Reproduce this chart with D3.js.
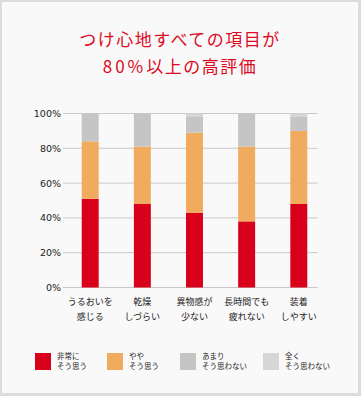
<!DOCTYPE html>
<html>
<head>
<meta charset="utf-8">
<script src="https://cdn.jsdelivr.net/npm/d3@7"></script>
<style>
  body { margin: 0; background: #ddd; }
  svg { display: block; font-family: 'Noto Sans CJK JP', 'Noto Sans', sans-serif; }
</style>
</head>
<body>
<svg id="chart"></svg>
<script>
const categories = [
  ['うるおいを', '感じる'],
  ['乾燥', 'しづらい'],
  ['異物感が', '少ない'],
  ['長時間でも', '疲れない'],
  ['装着', 'しやすい']
]
const seriesNames = [
  ['非常に', 'そう思う'],
  ['やや', 'そう思う'],
  ['あまり', 'そう思わない'],
  ['全く', 'そう思わない']
]
const veryMuch = [51, 48, 43, 38, 48]
const somewhat = [33, 33, 46, 43, 42]
const notMuch = [16, 19, 9, 19, 8]
const notAtAll = [0, 0, 2, 0, 2]
const yTicks = [0, 20, 40, 60, 80, 100]
const colors = ['#d9001b', '#f0ab5e', '#c4c5c4', '#d6d6d6']

const W = 361, H = 396
const svg = d3.select('#chart').attr('width', W).attr('height', H)

svg.append('rect').attr('width', W).attr('height', H).attr('fill', '#dcdcdc')
svg.append('rect').attr('x', 2).attr('y', 2).attr('width', W - 5).attr('height', H - 5).attr('fill', '#f9f9f9')

// title
const title = svg.append('g').attr('fill', '#dc0a23').attr('font-size', '17px')
  .attr('text-anchor', 'middle')
title.append('text').attr('x', 180).attr('y', 46).attr('letter-spacing', '1.5px')
  .text('つけ心地すべての項目が')
const t2 = title.append('text').attr('x', 180).attr('y', 73).attr('letter-spacing', '1.5px')
t2.append('tspan').attr('letter-spacing', '3px').text('80%')
t2.append('tspan').text('以上の高評価')

const rows = categories.map((c, i) => ({
  key: i, v0: veryMuch[i], v1: somewhat[i], v2: notMuch[i], v3: notAtAll[i]
}))
const stack = d3.stack().keys(['v0', 'v1', 'v2', 'v3'])(rows)

const x = d3.scaleBand().domain(d3.range(categories.length)).range([64, 325]).paddingInner(0.675).paddingOuter(0.34)
const y = d3.scaleLinear().domain([0, 100]).range([287.5, 113.5])

// gridlines
svg.append('g').selectAll('line').data(yTicks).join('line')
  .attr('x1', 63).attr('x2', 318)
  .attr('y1', d => y(d)).attr('y2', d => y(d))
  .attr('stroke', '#c8c8c8').attr('stroke-width', 1)

svg.append('g').selectAll('text').data(yTicks).join('text')
  .attr('x', 61).attr('y', d => y(d)).attr('dy', '0.36em')
  .attr('text-anchor', 'end').attr('fill', '#222')
  .attr('font-family', 'DejaVu Sans, sans-serif').attr('font-size', '9.5px')
  .text(d => d + '%')

// bars
svg.append('g').selectAll('g').data(stack).join('g')
  .attr('fill', (d, i) => colors[i])
  .selectAll('rect').data(d => d).join('rect')
  .attr('x', d => x(d.data.key))
  .attr('width', x.bandwidth())
  .attr('y', d => y(d[1]))
  .attr('height', d => y(d[0]) - y(d[1]))

// x labels
const xl = svg.append('g').selectAll('text').data(categories).join('text')
  .attr('text-anchor', 'middle').attr('font-size', '9px').attr('fill', '#222')
  .attr('transform', (d, i) => `translate(${x(i) + x.bandwidth() / 2},0)`)
xl.selectAll('tspan').data(d => d).join('tspan')
  .attr('x', 0).attr('y', (d, j) => 305 + j * 15).text(d => d)

// legend
const legendX = [35, 107, 180, 263]
const lg = svg.append('g').selectAll('g').data(seriesNames).join('g')
  .attr('transform', (d, i) => `translate(${legendX[i]},353)`)
lg.append('rect').attr('width', 16).attr('height', 17).attr('fill', (d, i) => colors[i])
lg.append('text').attr('font-size', '7.5px').attr('fill', '#222')
  .selectAll('tspan').data(d => d).join('tspan')
  .attr('x', 22).attr('y', (d, j) => 6 + j * 10).text(d => d)
</script>
</body>
</html>
